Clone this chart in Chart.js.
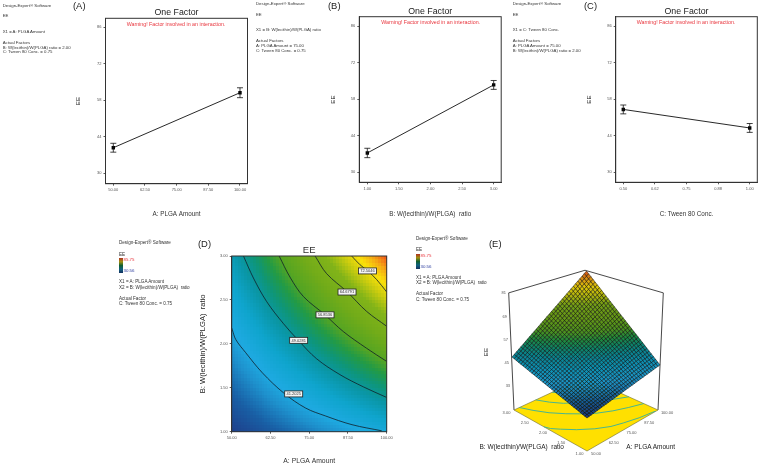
<!DOCTYPE html>
<html><head><meta charset="utf-8">
<script src="https://cdn.jsdelivr.net/npm/chart.js@4"></script>
<style>
html,body{margin:0;padding:0;background:#fff;overflow:hidden}
#page{position:relative;width:760px;height:465px;font-family:"Liberation Sans",Arial,sans-serif;filter:blur(0.35px)}
canvas{position:absolute}
.t{position:absolute;white-space:pre;color:#222;line-height:1}
</style></head><body><div id="page"></div>
<script>
// ---------- DATA ----------
const tickLabelsEE = ["30","44","58","72","86"];
const ticksEE = [30,44,58,72,86];
const ticksA = [50,62.5,75,87.5,100];
const ticksB = [1,1.5,2,2.5,3];
const ticksC = [0.5,0.625,0.75,0.875,1];
const tickLabelsA = ["50.00","62.50","75.00","87.50","100.00"];
const tickLabelsB = ["1.00","1.50","2.00","2.50","3.00"];
const tickLabelsC = ["0.50","0.62","0.75","0.88","1.00"];
const factorA = [50,100];  const eeFactorA = [39.8,60.9];  const errFactorA = [1.7,1.9];
const factorB = [1,3];     const eeFactorB = [37.3,63.4];  const errFactorB = [1.8,1.7];
const factorC = [0.5,1];   const eeFactorC = [54.0,46.9];  const errFactorC = [1.7,1.7];
// EE read at A = 50, 62.5, 75, 87.5, 100, one row for each B
const eeAtB100 = [30.56,33.35,36.13,38.92,41.70];
const eeAtB150 = [34.55,38.76,42.97,47.19,51.40];
const eeAtB200 = [38.53,44.17,49.82,55.46,61.10];
const eeAtB250 = [42.52,49.59,56.66,63.73,70.80];
const eeAtB300 = [46.50,55.00,63.50,72.00,80.50];
const eeRows = [eeAtB100,eeAtB150,eeAtB200,eeAtB250,eeAtB300];
// contour lines of panel D
const contour1A = [50,50.2,51.3,54.5,59.9,66.8,73.8,80.2,88.8,98.4];
const contour1B = [2.18,2.16,2.05,1.90,1.67,1.44,1.27,1.18,1.08,1.01];
const contour2A = [53.8,57,61.3,66.7,71.5,77.4,84.9,92.5,100];
const contour2B = [3,2.75,2.48,2.23,2.04,1.83,1.65,1.51,1.39];
const contour3A = [65.3,68.8,73.1,80.1,86,93.5,100];
const contour3B = [3,2.76,2.54,2.33,2.14,1.95,1.80];
const contour4A = [76.9,80.6,87.3,93.5,100];
const contour4B = [3,2.80,2.59,2.37,2.20];
const contour5A = [88.7,91.4,93.9,96.8,100];
const contour5B = [3,2.90,2.83,2.73,2.59];
const contourLabels = ["41.2025","49.0281","56.8536","64.6791","72.5046"];
const contourLabelA = [70.0,71.6,80.1,87.2,93.8];
const contourLabelB = [1.43,2.04,2.33,2.59,2.83];
const surfaceTicks = [33,45,57,69,81];
// ---------- HELPERS ----------
const FONT='"Liberation Sans",Arial,sans-serif';
const page=document.getElementById('page');
Chart.defaults.font.family=FONT;
function txt(s,x,y,size,o={}){
  const d=document.createElement('div');d.className='t';d.textContent=s;
  d.style.left=x+'px';d.style.top=y+'px';d.style.fontSize=size+'px';
  if(o.color)d.style.color=o.color;
  d.style.transform=(o.center?'translate(-50%,-50%)':'translateY(-50%)')+(o.rot?' rotate(-90deg)':'');
  page.appendChild(d);
}
function cv(l,t,w,h){const c=document.createElement('canvas');c.width=w;c.height=h;
  c.style.cssText=`left:${l}px;top:${t}px;width:${w}px;height:${h}px`;page.appendChild(c);return c;}
const pts=(xs,ys)=>xs.map((x,i)=>({x,y:ys[i]}));
function axis(ticks,labels,min,max,size,title,extra){
  return Object.assign({type:'linear',min,max,
    afterBuildTicks:s=>{s.ticks=ticks.map(v=>({value:v}));},
    afterFit:s=>{if(s.isHorizontal())s.height=size;else s.width=size;},
    grid:{drawOnChartArea:false,drawTicks:true,tickLength:2,color:'#333',lineWidth:.8},
    border:{display:true,color:'#333',width:1},
    ticks:{autoSkip:false,maxRotation:0,minRotation:0,padding:2,color:'#555',font:{size:4},
      callback:(v,i)=>labels[i]},
    title},extra||{});
}
const framePlugin={id:'frame',afterDraw(c){const a=c.chartArea,x=c.ctx;x.save();x.strokeStyle='#333';x.lineWidth=1;
  x.strokeRect(a.left,a.top,a.right-a.left,a.bottom-a.top);x.restore();}};
const errPlugin={id:'errs',afterDatasetsDraw(c,_,o){const x=c.ctx,sx=c.scales.x,sy=c.scales.y;x.save();x.strokeStyle='#111';x.lineWidth=.8;
  c.data.datasets[0].data.forEach((p,i)=>{const e=o.err[i],X=sx.getPixelForValue(p.x),T=sy.getPixelForValue(p.y+e),B=sy.getPixelForValue(p.y-e);
    x.beginPath();x.moveTo(X,T);x.lineTo(X,B);x.moveTo(X-3,T);x.lineTo(X+3,T);x.moveTo(X-3,B);x.lineTo(X+3,B);x.stroke();});x.restore();}};
function factorPanel(p){
  const c=cv(p.l,0,p.r-p.l,225);
  new Chart(c,{type:'scatter',plugins:[framePlugin,errPlugin],
   data:{datasets:[{label:'EE',data:pts(p.xs,p.ys),showLine:true,borderColor:'#111',borderWidth:.9,
     backgroundColor:'#000',pointStyle:'rect',pointRadius:2.4,pointBorderWidth:0}]},
   options:{responsive:false,animation:false,devicePixelRatio:1,layout:{autoPadding:false,padding:{top:0,left:0,right:p.r-p.fr,bottom:0}},
    plugins:{legend:{display:false},tooltip:{enabled:false},errs:{err:p.err},
     title:{display:true,text:'One Factor',fullSize:false,color:'#222',font:{size:8.8,weight:'normal'},padding:{top:p.ft-10.56,bottom:0}}},
    scales:{
     x:axis(p.ticks,p.labels,p.xmin,p.xmax,225-p.fb,{display:true,text:p.xt,color:'#333',font:{size:6.3},padding:{top:0,bottom:7.4}}),
     y:axis(ticksEE,tickLabelsEE,p.ymin,p.ymax,p.fl-p.l,{display:true,text:'EE',color:'#222',font:{size:6.2},padding:{top:p.tp,bottom:0}})
    }}});
  txt('Warning! Factor involved in an interaction.',p.wx,p.wy,5.3,{center:1,color:'#e8343c'});
}
factorPanel({l:60,r:255,fl:105.5,fr:247.5,ft:18.3,fb:183.7,tp:14.5,xs:factorA,ys:eeFactorA,err:errFactorA,ticks:ticksA,labels:tickLabelsA,
  xmin:46.92,xmax:102.96,ymin:26,ymax:89.45,xt:'A: PLGA Amount',wx:176,wy:24.5});
factorPanel({l:315,r:510,fl:359.3,fr:501.2,ft:16.7,fb:182.3,tp:14.5,xs:factorB,ys:eeFactorB,err:errFactorB,ticks:ticksB,labels:tickLabelsB,
  xmin:.873,xmax:3.119,ymin:26.05,ymax:89.57,xt:'B: W(lecithin)/W(PLGA)  ratio',wx:430.7,wy:22.7});
factorPanel({l:571,r:760,fl:615.7,fr:757.3,ft:16.7,fb:182.3,tp:14.5,xs:factorC,ys:eeFactorC,err:errFactorC,ticks:ticksC,labels:tickLabelsC,
  xmin:.47,xmax:1.03,ymin:26.05,ymax:89.57,xt:'C: Tween 80 Conc.',wx:686,wy:22.7});

// colour ramp
const ramp=[[30.56,30,65,140],[34,25,95,165],[37.5,30,145,205],[40,30,170,225],[44,15,165,205],[48,10,150,165],[51,15,150,120],[54,35,155,70],[57,85,165,35],[62,115,172,25],[67,130,180,25],[71,205,205,15],[74,250,225,10],[77,245,170,20],[80.5,240,80,25]];
function col(v,m=1){if(v<=ramp[0][0])v=ramp[0][0];
  for(let i=1;i<ramp.length;i++){if(v<=ramp[i][0]){const a=ramp[i-1],b=ramp[i],t=(v-a[0])/(b[0]-a[0]);
    return `rgb(${(a[1]+t*(b[1]-a[1]))*m|0},${(a[2]+t*(b[2]-a[2]))*m|0},${(a[3]+t*(b[3]-a[3]))*m|0})`;}}
  const l=ramp[ramp.length-1];return `rgb(${l[1]*m|0},${l[2]*m|0},${l[3]*m|0})`;}
function eeAt(a,b){const fx=(a-ticksA[0])/(ticksA[4]-ticksA[0])*4,fy=(b-ticksB[0])/(ticksB[4]-ticksB[0])*4;
  const i=Math.min(3,Math.floor(fx)),j=Math.min(3,Math.floor(fy)),s=fx-i,t=fy-j;
  return (1-t)*((1-s)*eeRows[j][i]+s*eeRows[j][i+1])+t*((1-s)*eeRows[j+1][i]+s*eeRows[j+1][i+1]);}

// ---------- PANEL D ----------
const heatPlugin={id:'heat',beforeDatasetsDraw(c){const x=c.ctx,sx=c.scales.x,sy=c.scales.y,n=52;x.save();
  for(let i=0;i<n;i++)for(let j=0;j<n;j++){
    const a0=50+50*i/n,a1=50+50*(i+1)/n,b0=1+2*j/n,b1=1+2*(j+1)/n;
    x.fillStyle=col(eeAt((a0+a1)/2,(b0+b1)/2));
    const X0=Math.round(sx.getPixelForValue(a0)),X1=Math.round(sx.getPixelForValue(a1)),Y0=Math.round(sy.getPixelForValue(b0)),Y1=Math.round(sy.getPixelForValue(b1));
    x.fillRect(X0,Y1,X1-X0,Y0-Y1);}
  x.restore();},
 afterDatasetsDraw(c){const x=c.ctx,sx=c.scales.x,sy=c.scales.y;x.save();x.font='4px '+FONT;x.textAlign='center';x.textBaseline='middle';
  contourLabels.forEach((s,i)=>{const X=sx.getPixelForValue(contourLabelA[i]),Y=sy.getPixelForValue(contourLabelB[i]);
    x.fillStyle='#f4f4f4';x.strokeStyle='#222';x.lineWidth=.8;x.fillRect(X-9,Y-3,18,6);x.strokeRect(X-9,Y-3,18,6);
    x.fillStyle='#333';x.fillText(s,X,Y+.3);});x.restore();}};
const contourSet=(xs,ys,n)=>({label:'EE '+n,data:pts(xs,ys),showLine:true,borderColor:'#10202a',borderWidth:.8,pointRadius:0,tension:.35,clip:0});
new Chart(cv(195,235,200,230),{type:'scatter',plugins:[heatPlugin,framePlugin],
 data:{datasets:[contourSet(contour1A,contour1B,contourLabels[0]),contourSet(contour2A,contour2B,contourLabels[1]),
   contourSet(contour3A,contour3B,contourLabels[2]),contourSet(contour4A,contour4B,contourLabels[3]),contourSet(contour5A,contour5B,contourLabels[4])]},
 options:{responsive:false,animation:false,devicePixelRatio:1,layout:{autoPadding:false,padding:{top:0,left:0,right:395-386.7,bottom:0}},
  plugins:{legend:{display:false},tooltip:{enabled:false},
   title:{display:true,text:'EE',fullSize:false,color:'#333',font:{size:9.5,weight:'normal'},padding:{top:21-11.4,bottom:0}}},
  scales:{
   x:axis(ticksA,tickLabelsA,50,100,230-196.7,{display:true,text:'A: PLGA Amount',color:'#333',font:{size:6.8},padding:{top:0,bottom:0}}),
   y:axis(ticksB,tickLabelsB,1,3,231.7-195,{display:true,text:'B: W(lecithin)/W(PLGA)  ratio',color:'#222',font:{size:7.6},padding:{top:3,bottom:0}})
  }}});

// ---------- PANEL E ----------
const Zf=20;
// box and floor points
function proj(u,v,z){const k=(1-u)*(1-v)*3.1+(u*(1-v)+(1-u)*v)*1.92+u*v*1.75;
  const yf=(1-u)*(1-v)*451+(u*(1-v)+(1-u)*v)*410+u*v*377;
  return {x:587+71*u-73*v+(u-v)*.087*(z-Zf),y:yf-k*(z-Zf)};}
// surface points: same view, one height factor so that straight edges stay straight
function projSurf(u,v,z){const b=(1-u)*(1-v)*476.7+u*(1-v)*445+(1-u)*v*446.3+u*v*425.6;
  return {x:(1-u)*(1-v)*587+u*(1-v)*660+(1-u)*v*512+u*v*586.5,y:b-1.92*z};}
const surfPlugin={id:'surf',beforeDatasetsDraw(c){const x=c.ctx,sx=c.scales.x,sy=c.scales.y;
  const px=p=>[sx.getPixelForValue(p.x),sy.getPixelForValue(p.y)];
  const P=(u,v,z)=>px(proj(u,v,z)),S=(u,v,z)=>px(projSurf(u,v,z));
  const path=a=>{x.beginPath();a.forEach((p,i)=>i?x.lineTo(p[0],p[1]):x.moveTo(p[0],p[1]));};
  x.save();x.lineWidth=.9;x.strokeStyle='#333';
  // box
  path([P(0,1,Zf),P(0,1,81),P(1,1,81),P(1,0,81),P(1,0,Zf)]);x.stroke();
  // floor
  path([P(0,0,Zf),P(1,0,Zf),P(1,1,Zf),P(0,1,Zf)]);x.closePath();x.fillStyle='#ffe000';x.fill();x.strokeStyle='#6a6a30';x.lineWidth=.6;x.stroke();
  x.strokeStyle='#33b0a0';x.lineWidth=.9;
  [[contour1A,contour1B],[contour2A,contour2B],[contour3A,contour3B],[contour4A,contour4B],[contour5A,contour5B]].forEach(([A,B])=>{
    path(A.map((a,i)=>P((a-50)/50,(B[i]-1)/2,Zf)));x.stroke();});
  // mesh, back to front
  const n=34,z=(u,v)=>eeAt(50+50*u,1+2*v);
  for(let s=2*n-2;s>=0;s--)for(let i=0;i<n;i++){const j=s-i;if(j<0||j>=n)continue;
    const u0=i/n,u1=(i+1)/n,v0=j/n,v1=(j+1)/n;
    path([S(u0,v0,z(u0,v0)),S(u1,v0,z(u1,v0)),S(u1,v1,z(u1,v1)),S(u0,v1,z(u0,v1))]);x.closePath();
    x.fillStyle=col(z((u0+u1)/2,(v0+v1)/2),.88);x.fill();x.strokeStyle='rgba(0,0,0,.62)';x.lineWidth=.75;x.stroke();}
  // tick labels
  x.fillStyle='#555';x.font='4px '+FONT;x.textAlign='center';x.textBaseline='middle';
  surfaceTicks.forEach(t=>{const p=P(0,1,t);x.fillText(String(t),p[0]-5,p[1]+.5);});
  ticksA.forEach((a,i)=>{const p=P((a-50)/50,0,Zf);x.fillText(tickLabelsA[i],p[0]+9,p[1]+2.5);});
  ticksB.forEach((b,i)=>{const p=P(0,(b-1)/2,Zf);x.fillText(tickLabelsB[i],p[0]-7.5,p[1]+2.6);});
  x.restore();}};
new Chart(cv(490,260,200,205),{type:'scatter',plugins:[surfPlugin],
 data:{datasets:[{label:'EE',data:eeRows.flatMap((r,j)=>r.map((z,i)=>projSurf(i/4,j/4,z))),pointRadius:0}]},
 options:{responsive:false,animation:false,devicePixelRatio:1,layout:{autoPadding:false,padding:0},
  plugins:{legend:{display:false},tooltip:{enabled:false}},
  scales:{x:{type:'linear',display:false,min:490,max:690},y:{type:'linear',display:false,min:260,max:465,reverse:true}}}});

// ---------- TEXT ----------
function sideTop(x,ys,x1,f1,f2){const L=['Design-Expert® Software','EE',x1,'Actual Factors',f1,f2];
  L.forEach((s,i)=>txt(s,x,ys[i],4.3,{color:'#333'}));}
sideTop(2.7,[5.7,16.3,31.7,42.7,47.7,52.3],'X1 = A: PLGA Amount','B: W(lecithin)/W(PLGA) ratio = 2.00','C: Tween 80 Conc. = 0.75');
sideTop(256,[4.3,15,30,41,46.3,51],'X1 = B: W(lecithin)/W(PLGA) ratio','A: PLGA Amount = 75.00','C: Tween 80 Conc. = 0.75');
sideTop(512.7,[4.3,15,30,41,46.3,51],'X1 = C: Tween 80 Conc.','A: PLGA Amount = 75.00','B: W(lecithin)/W(PLGA) ratio = 2.00');
function side3d(x,ys,bar){const L=['Design-Expert® Software','EE','X1 = A: PLGA Amount','X2 = B: W(lecithin)/W(PLGA)  ratio','Actual Factor','C: Tween 80 Conc. = 0.75'];
  L.forEach((s,i)=>txt(s,x,ys[i],4.6,{color:'#333'}));
  const b=document.createElement('div');
  b.style.cssText=`position:absolute;left:${x}px;top:${bar[0]}px;width:3.5px;height:${bar[1]-bar[0]}px;background:linear-gradient(#b03020,#a09010,#106030,#106080,#14305e)`;
  page.appendChild(b);
  txt('85.75',x+4.5,bar[0]+2,4.4,{color:'#e8343c'});txt('30.56',x+4.5,bar[1]-2,4.4,{color:'#3040a0'});}
side3d(119,[243.3,254.5,282,287.8,298.5,304],[257.7,273]);
side3d(416,[239,249.5,277.8,283.2,294.2,300],[254,268.5]);
txt('(A)',73,6,9.4);txt('(B)',328,5.7,9.4);txt('(C)',584,5.7,9.4);txt('(D)',198,243.7,9.4);txt('(E)',489,243.7,9.4);
txt('EE',486,352.3,6.2,{center:1,rot:1});
txt('B: W(lecithin)/W(PLGA)  ratio',521.7,447,6.5,{center:1,color:'#222'});
txt('A: PLGA Amount',650.7,447,6.5,{center:1,color:'#222'});
</script></body></html>
